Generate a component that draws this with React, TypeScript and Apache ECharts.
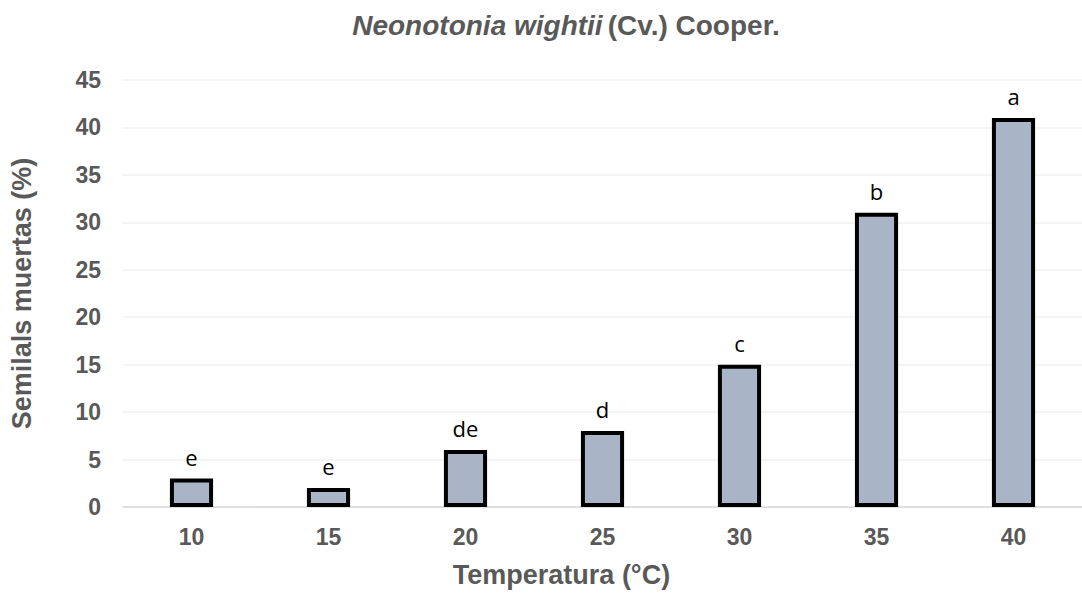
import React, { useEffect, useRef } from "react";
import * as echarts from "echarts";

const categories = ["10", "15", "20", "25", "30", "35", "40"];
const values = [3, 2, 6, 8, 15, 31, 41];
const letters = ["e", "e", "de", "d", "c", "b", "a"];

export default function App() {
  const ref = useRef<HTMLDivElement>(null);
  useEffect(() => {
    if (!ref.current) return;
    const chart = echarts.init(ref.current, undefined, { renderer: "svg" });
    const gray = "#595959";
    chart.setOption({
      animation: false,
      textStyle: { fontFamily: "Liberation Sans" },
      title: {
        text: "{i|Neonotonia wightii} {n|(Cv.) Cooper.}",
        left: 561,
        textAlign: "center",
        top: 6,
        textStyle: {
          rich: {
            i: { fontStyle: "italic", fontWeight: "bold", fontSize: 28, color: gray, fontFamily: "Liberation Sans" },
            n: { fontWeight: "bold", fontSize: 28, color: gray, fontFamily: "Liberation Sans" },
          },
        },
      },
      grid: { left: 122, right: 0, top: 80, bottom: 81, containLabel: false },
      xAxis: {
        type: "category",
        data: categories,
        axisTick: { show: false },
        axisLine: { lineStyle: { color: "#d9d9d9", width: 1.5 } },
        axisLabel: { color: gray, fontSize: 23, fontWeight: "bold", margin: 18 },
        name: "Temperatura (°C)",
        nameLocation: "middle",
        nameGap: 54,
        nameTextStyle: { color: gray, fontSize: 27, fontWeight: "bold", padding: [0, 82, 0, 0] },
      },
      yAxis: {
        type: "value",
        min: 0,
        max: 45,
        interval: 5,
        axisLine: { show: false },
        axisTick: { show: false },
        splitLine: { lineStyle: { color: "#f0f0f0", width: 1.5 } },
        axisLabel: { color: gray, fontSize: 23, fontWeight: "bold", margin: 22 },
        name: "Semilals muertas (%)",
        nameLocation: "middle",
        nameGap: 88,
        nameTextStyle: { color: gray, fontSize: 27, fontWeight: "bold" },
      },
      series: [
        {
          type: "bar",
          data: values,
          barWidth: "31.5%",
          itemStyle: { color: "#a9b5c6", borderColor: "#000000", borderWidth: 4 },
          label: {
            show: true,
            position: "top",
            distance: 11,
            color: "#000000",
            fontSize: 22,
            fontFamily: "Open Sans",
            formatter: (p: any) => letters[p.dataIndex],
          },
        },
      ],
    });
    return () => chart.dispose();
  }, []);
  return <div ref={ref} style={{ width: 1082, height: 593, position: "absolute", left: 0, top: 0 }} />;
}
